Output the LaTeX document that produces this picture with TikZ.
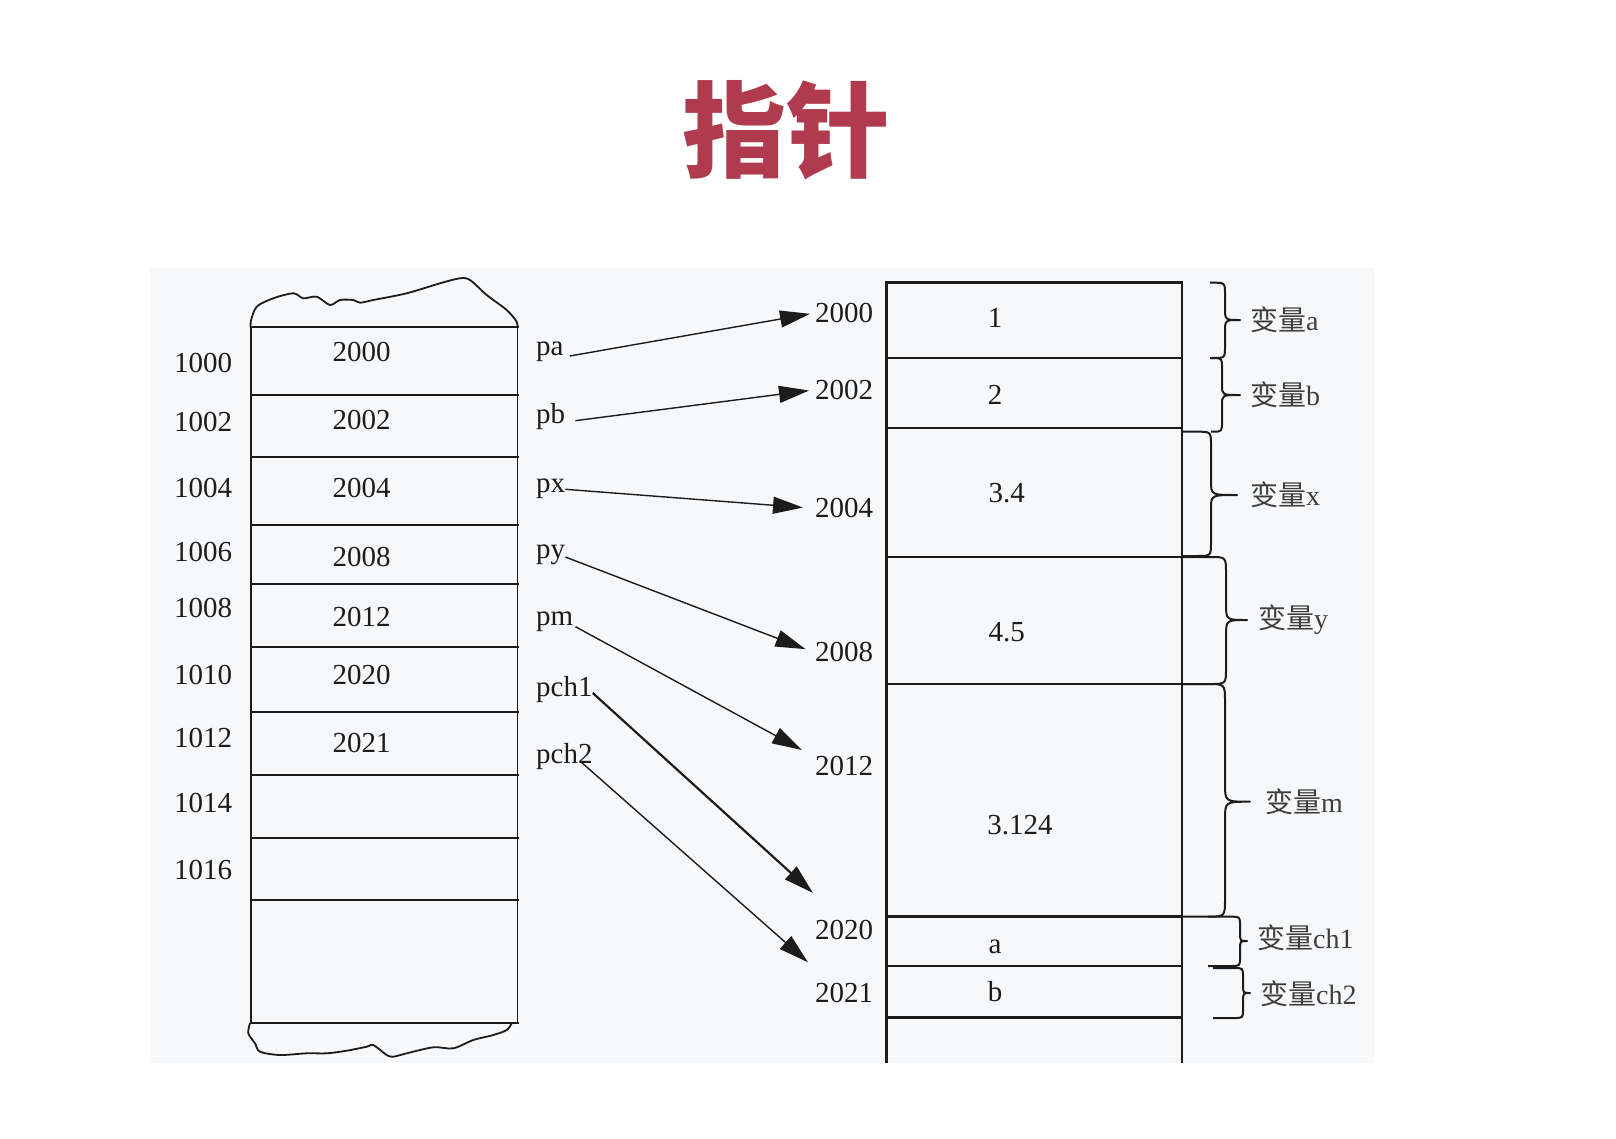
\documentclass[tikz,border=0pt]{standalone}
\usepackage{fontspec}
\setmainfont{Liberation Serif}
\newfontfamily\cjk{Noto Sans CJK SC}
\usetikzlibrary{arrows.meta,calc}
\definecolor{titlered}{RGB}{176,58,78}
\definecolor{panel}{RGB}{247,248,250}
\definecolor{ink}{RGB}{28,28,28}
% brace: y1, y2, x-left (hook end), x-spine, x-tip, y-tip, radius
\newcommand\mybrace[7]{%
  \pgfmathsetmacro\bya{#1+#7}\pgfmathsetmacro\byb{#6-#7}%
  \pgfmathsetmacro\byc{#6+#7}\pgfmathsetmacro\byd{#2-#7}%
  \pgfmathsetmacro\bxa{#4-#7}%
  \draw[brc] (#3,#1) -- (\bxa,#1) .. controls (#4,#1) .. (#4,\bya) -- (#4,\byb)
    .. controls (#4,#6) .. (#5,#6) .. controls (#4,#6) .. (#4,\byc) -- (#4,\byd)
    .. controls (#4,#2) .. (\bxa,#2) -- (#3,#2);}
\begin{document}
\begin{tikzpicture}[x=1pt,y=-1pt,
  txt/.style={font=\fontsize{29}{34}\selectfont, text=ink, inner sep=2pt},
  ptrlab/.style={txt, anchor=west},
  addr/.style={txt, anchor=west},
  blab/.style={font=\fontsize{28}{34}\selectfont, text=ink!85, inner sep=0pt, anchor=west},
  hline/.style={draw=ink, line width=2.2pt},
  vline/.style={draw=ink, line width=1.6pt},
  rline/.style={draw=ink, line width=2.6pt},
  wavy/.style={draw=ink, line width=1.8pt},
  brc/.style={draw=ink, line width=2pt, line join=round},
  ptr/.style={draw=ink, line width=1.4pt, -{Triangle[length=30pt,width=17pt]}},
  ptrbold/.style={ptr, line width=2.2pt},
  title/.style={font=\cjk\bfseries\fontsize{104}{110}\selectfont, text=titlered, inner sep=0pt}]
\useasboundingbox (0,0) rectangle (1616,1138);
\fill[white] (0,0) rectangle (1616,1138);
\fill[panel] (150,268) rectangle (1374,1063);

% title
\node[title] (ttl) at (786,130) {指针};

% ---------- left memory box ----------
\draw[wavy] plot[smooth, tension=0.5] coordinates {(251,328) (250.7,321.7) (256.7,306.7) (273.3,298.3) (293.3,293.3) (303.3,298.3) (316.7,296.7) (330,305) (340,300) (353.3,300) (360,302.7) (373.3,300) (406.7,293.3) (440,283.3) (460,278.3) (470,280) (486.7,295) (506.7,310) (516.7,321.7) (517.5,328)};
\draw[wavy] plot[smooth, tension=0.5] coordinates {(250,1023.3) (248.3,1033.3) (255,1043.3) (260,1051.7) (280,1055) (306.7,1053.3) (326.7,1053.3) (346.7,1050.7) (366.7,1046.7) (373.3,1045) (386.7,1055) (393.3,1056.7) (406.7,1053.3) (433.3,1047.3) (453.3,1048.3) (473.3,1040) (493.3,1035) (506.7,1030) (511.7,1023.3)};
\draw[vline] (251,327.3) -- (251,1023.3);
\draw[vline] (517.5,327.3) -- (517.5,1023.3);
\foreach \yy in {327.3,395,457.3,525,584.3,646.7,711.7,775,837.7,900,1023.3}
  \draw[hline] (250,\yy) -- (519,\yy);

% left cell values
\node[txt] (v2000) at (361.7,351.7) {2000};
\node[txt] (v2002) at (361.7,420) {2002};
\node[txt] (v2004) at (361.7,488) {2004};
\node[txt] (v2008) at (361.7,556.7) {2008};
\node[txt] (v2012) at (361.7,616.7) {2012};
\node[txt] (v2020) at (361.7,675) {2020};
\node[txt] (v2021) at (361.7,743) {2021};

% left addresses
\node[txt] (l1000) at (203,363) {1000};
\node[txt] (l1002) at (203,421.7) {1002};
\node[txt] (l1004) at (203,488) {1004};
\node[txt] (l1006) at (203,551.7) {1006};
\node[txt] (l1008) at (203,608) {1008};
\node[txt] (l1010) at (203,675) {1010};
\node[txt] (l1012) at (203,738) {1012};
\node[txt] (l1014) at (203,803) {1014};
\node[txt] (l1016) at (203,870) {1016};

% pointer names
\node[ptrlab] (pa) at (534,351.7) {pa};
\node[ptrlab] (pb) at (534,416.7) {pb};
\node[ptrlab] (px) at (534,488.3) {px};
\node[ptrlab] (py) at (534,555) {py};
\node[ptrlab] (pm) at (534,621.7) {pm};
\node[ptrlab] (pch1) at (534,690) {pch1};
\node[ptrlab] (pch2) at (534,756.7) {pch2};

% ---------- right memory box ----------
\draw[rline] (886.7,282.7) -- (886.7,1063);
\draw[rline] (1182,282.7) -- (1182,1063);
\foreach \yy in {282.7,357.8,428,557,684,916.7,966,1017.7}
  \draw[rline] (885.4,\yy) -- (1183.3,\yy);

% right addresses
\node[addr] (r2000) at (813,313.3) {2000};
\node[addr] (r2002) at (813,390) {2002};
\node[addr] (r2004) at (813,508.3) {2004};
\node[addr] (r2008) at (813,652) {2008};
\node[addr] (r2012) at (813,766) {2012};
\node[addr] (r2020) at (813,930) {2020};
\node[addr] (r2021) at (813,993.3) {2021};

% right values
\node[txt] (c1) at (995,318.3) {1};
\node[txt] (c2) at (995,395) {2};
\node[txt] (c34) at (1006.7,493.3) {3.4};
\node[txt] (c45) at (1006.7,631.7) {4.5};
\node[txt] (c3124) at (1020,825) {3.124};
\node[txt] (ca) at (995,946.7) {a};
\node[txt] (cb) at (995,991.7) {b};

% ---------- pointer arrows ----------
\coordinate (tm) at ($(r2012.west)+(-11,-16)$);
\coordinate (tch1) at ($(r2020.west)+(0,-37)$);
\coordinate (tch2) at ($(r2021.west)+(-5,-31)$);
\coordinate (sch2) at ($(pch2.east)+(-14,5)$);
\coordinate (sch1) at ($(pch1.east)+(-2,3)$);
\draw[ptr, shorten <=4pt, shorten >=3pt] ($(pa.east)+(0,5)$) -- (r2000.west);
\draw[ptr, shorten <=8pt, shorten >=4pt] ($(pb.east)+(0,5)$) -- (r2002.west);
\draw[ptr, shorten >=10pt] ($(px.east)+(-2,1)$) -- (r2004.west);
\draw[ptr, shorten >=8pt] ($(py.east)+(-2,2)$) -- (r2008.west);
\draw[ptr] ($(pm.east)+(0,5)$) -- (tm);
\draw[ptrbold] (sch1) -- (tch1);
\draw[ptr] (sch2) -- (tch2);

% ---------- braces ----------
\mybrace{282.7}{358}{1210}{1225}{1240}{320}{12}
\mybrace{358}{431.7}{1211}{1222}{1240}{395}{10}
\mybrace{431.7}{556}{1182}{1211}{1237}{495}{14}
\mybrace{557}{684}{1182}{1226}{1247}{620}{16}
\mybrace{684}{916.7}{1182}{1225}{1250}{801.7}{18}
\mybrace{916.7}{966}{1208}{1240}{1247}{941}{9}
\mybrace{968}{1018}{1213}{1243}{1250}{993}{9}

% brace labels
\node[blab] (na) at (1250,320) {{\cjk 变量}a};
\node[blab] (nb) at (1250,395) {{\cjk 变量}b};
\node[blab] (nx) at (1250,495) {{\cjk 变量}x};
\node[blab] (ny) at (1258,620) {{\cjk 变量}y};
\node[blab] (nm) at (1265,801.7) {{\cjk 变量}m};
\node[blab] (nch1) at (1257,938) {{\cjk 变量}ch1};
\node[blab] (nch2) at (1260,993.3) {{\cjk 变量}ch2};
\end{tikzpicture}
\end{document}
